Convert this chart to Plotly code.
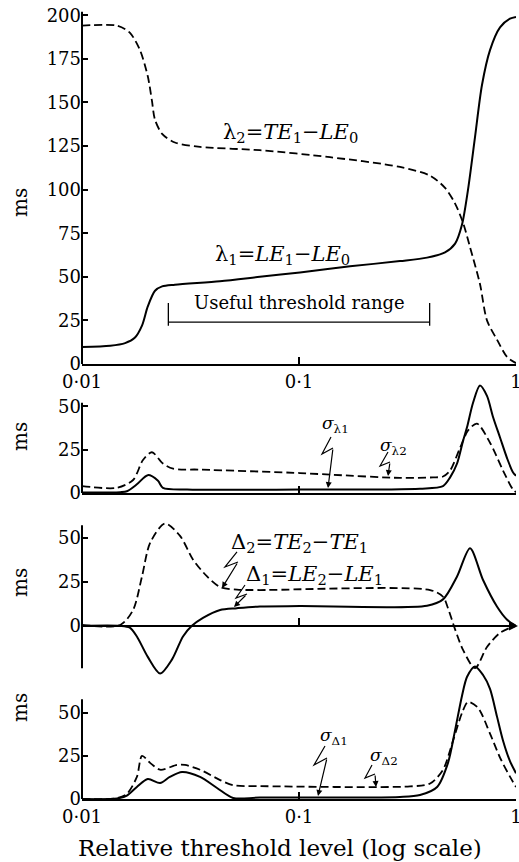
import plotly.graph_objects as go

W, H = 519, 862

# ---------------- data (relative threshold level, ms) ----------------
# Panel 1: lambda1 (solid), lambda2 (dashed)
lam1_x = [0.0100, 0.0135, 0.0158, 0.0175, 0.0189, 0.0201, 0.0217, 0.0234, 0.0268, 0.0432,
          0.066, 0.101, 0.172, 0.292, 0.389, 0.471, 0.524, 0.564, 0.601, 0.647, 0.697,
          0.759, 0.844, 0.938, 1.0]
lam1_y = [9.7, 10.5, 12, 15, 22, 33, 42, 44.5, 45.5, 47.5, 50, 52.5, 56, 59, 61, 64, 69,
          80, 100, 130, 160, 180, 193, 198, 199]
lam2_x = [0.0100, 0.0145, 0.0166, 0.0185, 0.0201, 0.0210, 0.0217, 0.0234, 0.0268, 0.035,
          0.066, 0.139, 0.292, 0.402, 0.471, 0.524, 0.570, 0.614, 0.682, 0.735, 0.817,
          0.910, 1.0]
lam2_y = [194, 194, 190, 180, 165, 151, 140, 132, 127, 124.5, 122.6, 118.6, 113, 108, 101,
          92, 81, 67, 46, 25, 14, 4, 0.5]

# Panel 2: sigma lambda1 (solid), sigma lambda2 (dashed)
sl1_x = [0.0100, 0.0150, 0.0161, 0.0179, 0.0201, 0.0224, 0.0236, 0.0305, 0.101, 0.361,
         0.461, 0.497, 0.535, 0.570, 0.595, 0.634, 0.682, 0.735, 0.783, 0.844, 0.910,
         0.968, 1.0]
sl1_y = [0.3, 0.5, 1, 5, 10.3, 7, 3, 2, 2, 2.5, 4, 9, 17, 30, 38, 52, 62, 56, 44, 32, 20,
         12, 10]
sl2_x = [0.0100, 0.0145, 0.0172, 0.0191, 0.0210, 0.0236, 0.0263, 0.035, 0.101, 0.1436,
         0.292, 0.4145, 0.461, 0.497, 0.552, 0.601, 0.661, 0.759, 0.871, 0.968, 1.0]
sl2_y = [4, 3, 7.5, 19, 23.5, 17, 14, 13.5, 11.5, 10.5, 8.7, 9, 9.5, 13, 26, 36, 40, 29,
         13, 2, 0.5]

# Panel 3: Delta1 (solid), Delta2 (dashed)
d1_x = [0.0100, 0.0150, 0.0166, 0.0179, 0.0201, 0.0229, 0.026, 0.0292, 0.0321, 0.0361,
        0.0433, 0.0518, 0.066, 0.101, 0.389, 0.461, 0.535, 0.614, 0.705, 0.817, 0.910, 1.0]
d1_y = [0, 0, -1, -6, -17.6, -27, -19, -6, 0, 4.5, 9, 10, 11, 11.2, 11.4, 15, 28, 44, 26,
        11, 3.5, 0]
d2_x = [0.0100, 0.0150, 0.0172, 0.0189, 0.0206, 0.0241, 0.0283, 0.0325, 0.0377, 0.0433,
        0.0518, 0.066, 0.402, 0.461, 0.486, 0.524, 0.570, 0.647, 0.735, 0.844, 0.968, 1.0]
d2_y = [0.5, 0.5, 9, 28, 47, 58, 51, 37.5, 28, 22, 20.5, 20.3, 20.3, 16.5, 10, -2, -13.6,
        -24, -12, -4, -0.5, 0]

# Panel 4: sigma Delta1 (solid), sigma Delta2 (dashed)
sd1_x = [0.0100, 0.0145, 0.0161, 0.0179, 0.0201, 0.0229, 0.0254, 0.0289, 0.035, 0.0419,
         0.0497, 0.066, 0.292, 0.361, 0.433, 0.486, 0.524, 0.564, 0.595, 0.647, 0.705,
         0.759, 0.817, 0.871, 0.938, 1.0]
sd1_y = [0, 0.3, 2, 7, 11.6, 9.3, 12.8, 15.7, 12.8, 6.4, 0.6, 0.8, 1.2, 2.3, 7, 21, 40, 60,
         71, 77, 72, 64, 48, 34, 22, 15]
sd2_x = [0.0100, 0.0145, 0.0161, 0.0179, 0.0189, 0.0206, 0.0229, 0.0274, 0.0298, 0.035,
         0.0433, 0.0497, 0.066, 0.325, 0.402, 0.461, 0.513, 0.564, 0.601, 0.668, 0.759,
         0.844, 0.938, 1.0]
sd2_y = [0, 0.5, 3, 12.8, 25, 21, 17, 19.8, 19.8, 17, 11, 8, 7.5, 7.3, 9, 17, 34, 50, 56.4,
         53, 38, 24, 13, 7]

x_ticks = [0.01, 0.1, 1]
x_ticktext = ["0·01", "0·1", "1"]
y1_ticks = [0, 25, 50, 75, 100, 125, 150, 175, 200]
ys_ticks = [0, 25, 50]

# ---------------- layout helpers ----------------
FONT = "DejaVu Serif"
def P(px, py):
    return px / W, 1 - py / H

def dom(top_px, bot_px):
    return [1 - bot_px / H, 1 - top_px / H]

XD = [82 / W, 516 / W]
SOLID = dict(color="black", width=2, shape="spline", smoothing=0.8)
DASH = dict(color="black", width=1.8, dash="8px,4px", shape="spline", smoothing=0.8)

fig = go.Figure()
series = [
    (lam1_x, lam1_y, SOLID, "x", "y"), (lam2_x, lam2_y, DASH, "x", "y"),
    (sl1_x, sl1_y, SOLID, "x2", "y2"), (sl2_x, sl2_y, DASH, "x2", "y2"),
    (d1_x, d1_y, SOLID, "x3", "y3"), (d2_x, d2_y, DASH, "x3", "y3"),
    (sd1_x, sd1_y, SOLID, "x4", "y4"), (sd2_x, sd2_y, DASH, "x4", "y4"),
]
for xs, ys, ln, xa, ya in series:
    fig.add_trace(go.Scatter(x=xs, y=ys, mode="lines", line=ln, xaxis=xa, yaxis=ya,
                             showlegend=False, hoverinfo="skip"))

tickfont = dict(family=FONT, size=18, color="black")
xbase = dict(type="log", range=[-2, 0], domain=XD, showgrid=False, zeroline=False,
             showline=True, linecolor="black", linewidth=2, ticks="inside", ticklen=7,
             tickwidth=1.5, tickcolor="black", tickvals=x_ticks, ticktext=x_ticktext,
             tickfont=tickfont, automargin=False, ticklabeloverflow="allow")
ybase = dict(showgrid=False, zeroline=False, showline=False, ticks="inside", ticklen=6,
             tickwidth=1.5, tickcolor="black", tickfont=tickfont, automargin=False)

fig.update_layout(
    width=W, height=H, margin=dict(l=0, r=0, t=0, b=0),
    paper_bgcolor="white", plot_bgcolor="rgba(0,0,0,0)",
    xaxis=dict(xbase, anchor="y", showticklabels=True),
    yaxis=dict(ybase, domain=dom(10, 364), range=[0, 203], tickvals=y1_ticks, anchor="x"),
    xaxis2=dict(xbase, anchor="y2", showticklabels=False),
    yaxis2=dict(ybase, domain=dom(382, 493), range=[0, 64], tickvals=ys_ticks, anchor="x2"),
    xaxis3=dict(xbase, anchor="free", position=1 - 626 / H, showticklabels=False,
                tickvals=[0.1]),
    yaxis3=dict(ybase, domain=dom(520, 677), range=[-29, 60], tickvals=ys_ticks,
                anchor="x3"),
    xaxis4=dict(xbase, anchor="y4", showticklabels=True),
    yaxis4=dict(ybase, domain=dom(663, 799), range=[0, 79], tickvals=ys_ticks, anchor="x4"),
)

shapes = []
# y-axis spines (limited extent)
for xa, ya, y0, y1 in [("x", "y", 0, 202), ("x2", "y2", 0, 52), ("x3", "y3", -24, 57),
                       ("x4", "y4", 0, 58)]:
    shapes.append(dict(type="line", xref=xa + " domain", yref=ya, x0=0, x1=0, y0=y0, y1=y1,
                       line=dict(color="black", width=2)))
# useful threshold range bracket (data coordinates)
rng_lo, rng_hi, rng_y = 0.025, 0.40, 24
shapes.append(dict(type="line", xref="x", yref="y", x0=rng_lo, x1=rng_hi, y0=rng_y, y1=rng_y,
                   line=dict(color="black", width=1.3)))
for xv in (rng_lo, rng_hi):
    shapes.append(dict(type="line", xref="x", yref="y", x0=xv, x1=xv, y0=rng_y - 2,
                       y1=rng_y + 11, line=dict(color="black", width=1.3)))

annotations = []
def label(text, px, py, size=19):
    x, y = P(px, py)
    annotations.append(dict(text=text, x=x, y=y, xref="paper", yref="paper",
                            showarrow=False, font=dict(family=FONT, size=size, color="black"),
                            xanchor="center", yanchor="middle"))

def squiggle(pts, tip):
    path = "M " + " L ".join(f"{P(px, py)[0]:.5f},{P(px, py)[1]:.5f}" for px, py in pts)
    shapes.append(dict(type="path", xref="paper", yref="paper", path=path,
                       line=dict(color="black", width=1.2)))
    sx, sy = pts[-1]
    tx, ty = P(*tip)
    annotations.append(dict(text="", x=tx, y=ty, xref="paper", yref="paper", showarrow=True,
                            ax=sx - tip[0], ay=sy - tip[1], arrowhead=2, arrowsize=1,
                            arrowwidth=1.2, arrowcolor="black", standoff=0))

for py in [203, 437, 583, 708]:
    x, y = P(20, py)
    annotations.append(dict(text="ms", x=x, y=y, xref="paper", yref="paper", showarrow=False,
                            textangle=-90, xanchor="center", yanchor="middle",
                            font=dict(family=FONT, size=20, color="black")))

label("λ<sub>2</sub>=<i>TE</i><sub>1</sub>−<i>LE</i><sub>0</sub>", 290, 133, 21)
label("λ<sub>1</sub>=<i>LE</i><sub>1</sub>−<i>LE</i><sub>0</sub>", 282, 255, 21)
label("Useful threshold range", 299, 302, 18)
label("<i>σ</i><sub>λ1</sub>", 335, 424, 17)
label("<i>σ</i><sub>λ2</sub>", 393, 446, 17)
label("Δ<sub>2</sub>=<i>TE</i><sub>2</sub>−<i>TE</i><sub>1</sub>", 299, 543, 21)
label("Δ<sub>1</sub>=<i>LE</i><sub>2</sub>−<i>LE</i><sub>1</sub>", 314, 575, 21)
label("<i>σ</i><sub>Δ1</sub>", 334, 736, 17)
label("<i>σ</i><sub>Δ2</sub>", 384, 756, 17)
label("Relative threshold level (log scale)", 280, 848, 23)

squiggle([(331, 437), (322, 454), (333, 448)], (328, 488))
squiggle([(388, 452), (380, 466), (390, 462)], (388, 476))
squiggle([(237, 552), (225, 567), (238, 562)], (222, 588))
squiggle([(245, 585), (236, 598), (247, 594)], (234, 607))
squiggle([(325, 746), (314, 765), (327, 758)], (318, 796))
squiggle([(372, 765), (365, 778), (375, 774)], (376, 787))

# arrowhead at the right end of the zero line in panel 3
tx, ty = P(519, 626)
annotations.append(dict(text="", x=tx, y=ty, xref="paper", yref="paper", showarrow=True,
                        ax=-12, ay=0, arrowhead=2, arrowsize=1.2, arrowwidth=1.5,
                        arrowcolor="black", standoff=0))

fig.update_layout(shapes=shapes, annotations=annotations)
fig.write_html("out.html")
